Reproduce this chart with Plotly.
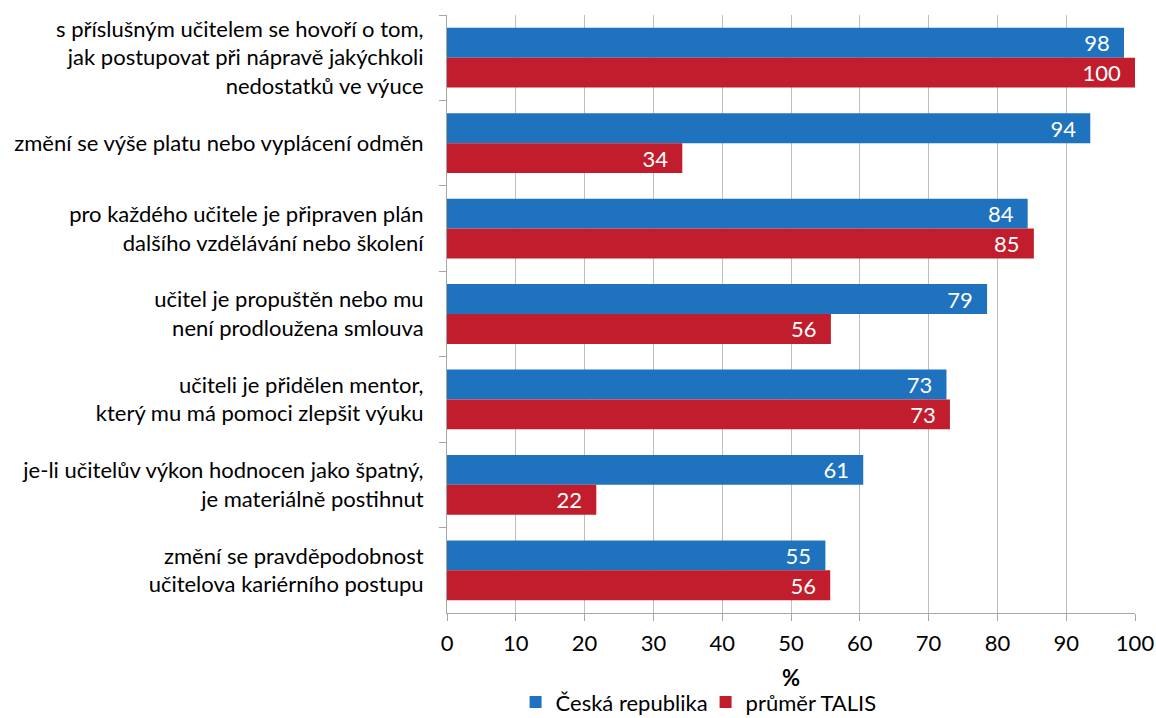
import plotly.graph_objects as go

categories = [
    "s příslušným učitelem se hovoří o tom,<br>jak postupovat při nápravě jakýchkoli<br>nedostatků ve výuce",
    "změní se výše platu nebo vyplácení odměn",
    "pro každého učitele je připraven plán<br>dalšího vzdělávání nebo školení",
    "učitel je propuštěn nebo mu<br>není prodloužena smlouva",
    "učiteli je přidělen mentor,<br>který mu má pomoci zlepšit výuku",
    "je-li učitelův výkon hodnocen jako špatný,<br>je materiálně postihnut",
    "změní se pravděpodobnost<br>učitelova kariérního postupu",
]
cz_values = [98.4, 93.5, 84.4, 78.5, 72.6, 60.5, 55.0]
talis_values = [100.0, 34.2, 85.3, 55.8, 73.1, 21.7, 55.7]
series_names = ["Česká republika", "průměr TALIS"]
colors = ["#1F72BD", "#C11D2D"]
x_ticks = [0, 10, 20, 30, 40, 50, 60, 70, 80, 90, 100]

FONT = "Lato, 'Open Sans', sans-serif"
FS = 22

fig = go.Figure()
for name, vals, col in zip(series_names, [cz_values, talis_values], colors):
    fig.add_trace(go.Bar(
        y=categories, x=vals, name=name, orientation="h",
        marker=dict(color=col, line=dict(width=0)),
        texttemplate="%{x:.0f}  ", textposition="inside", insidetextanchor="end",
        textangle=0,
        textfont=dict(color="white", size=FS, family=FONT),
        cliponaxis=False,
    ))

fig.update_layout(
    width=1156, height=718,
    margin=dict(l=447, r=21, t=15, b=105, autoexpand=False),
    barmode="group", bargap=0.3, bargroupgap=0,
    plot_bgcolor="white", paper_bgcolor="white",
    font=dict(family=FONT, size=FS, color="#000000"),
    showlegend=True,
    legend=dict(orientation="h", xref="container", yref="paper",
                x=0.446, xanchor="left", y=-0.114, yanchor="top",
                font=dict(size=FS), itemwidth=30, tracegroupgap=0,
                entrywidth=145, entrywidthmode="pixels"),
    uniformtext=dict(mode="show", minsize=FS),
)
fig.update_xaxes(
    range=[0, 100], tickvals=x_ticks, ticktext=[str(t) for t in x_ticks],
    showgrid=True, gridcolor="#BFBFBF", gridwidth=1,
    showline=True, linecolor="#A6A6A6", linewidth=1,
    ticks="outside", ticklen=7, tickcolor="#A6A6A6",
    zeroline=False, automargin=True,
    title=dict(text="<b>%</b>", font=dict(size=FS), standoff=15),
    tickfont=dict(size=FS), ticklabelstandoff=4,
)
fig.update_yaxes(
    autorange="reversed", type="category",
    showline=True, linecolor="#A6A6A6", linewidth=1,
    ticks="outside", ticklen=7, tickcolor="#A6A6A6", tickson="boundaries",
    showgrid=False, tickfont=dict(size=FS), ticklabelstandoff=18,
    automargin=False,
)

fig.write_html(
    "out.html",
    config={"displayModeBar": False},
    post_script="document.body.style.margin='0';document.body.style.overflow='hidden';",
)
